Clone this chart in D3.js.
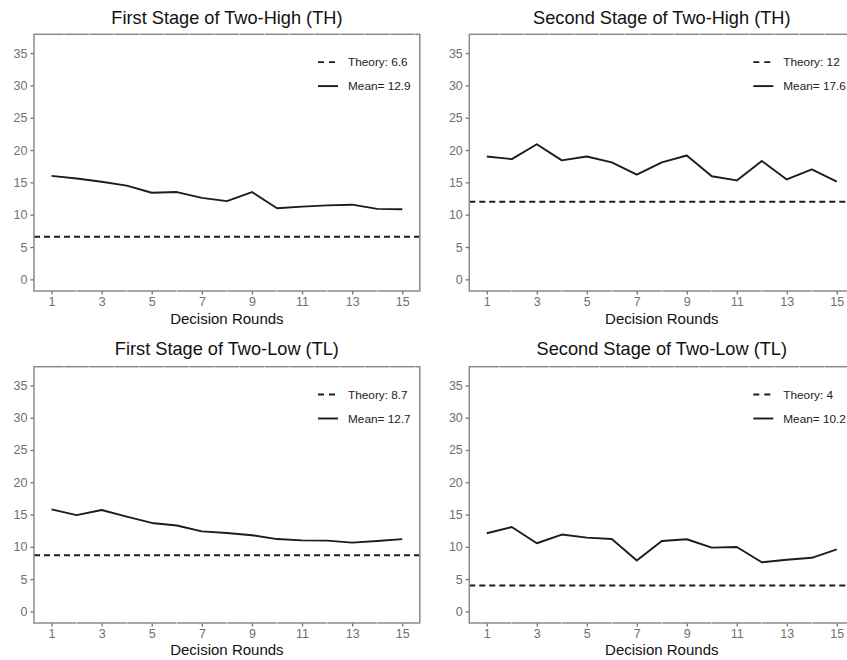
<!DOCTYPE html>
<html>
<head>
<meta charset="utf-8">
<script src="https://cdn.jsdelivr.net/npm/d3@7/dist/d3.min.js"></script>
<style>
  html, body { margin: 0; padding: 0; background: #fff; }
  svg { display: block; }
  text { font-family: "Liberation Sans", Arial, sans-serif; }
</style>
</head>
<body>
<svg id="chart" width="847" height="660"></svg>
<script>
// ---------- data ----------
const rounds = [1, 2, 3, 4, 5, 6, 7, 8, 9, 10, 11, 12, 13, 14, 15];
const thFirst  = [16.0, 15.6, 15.1, 14.5, 13.4, 13.5, 12.6, 12.1, 13.5, 11.0, 11.25, 11.45, 11.55, 10.9, 10.85];
const thSecond = [19.0, 18.6, 20.9, 18.4, 19.0, 18.1, 16.2, 18.1, 19.15, 15.95, 15.3, 18.3, 15.45, 17.0, 15.1];
const tlFirst  = [15.8, 14.9, 15.7, 14.67, 13.7, 13.3, 12.4, 12.15, 11.8, 11.2, 11.0, 10.96, 10.65, 10.9, 11.2];
const tlSecond = [12.1, 13.07, 10.55, 11.9, 11.43, 11.2, 7.87, 10.9, 11.17, 9.88, 9.98, 7.6, 8.0, 8.3, 9.6];
const theoryValues = [6.6, 12, 8.7, 4];
const theoryLabels = ["Theory: 6.6", "Theory: 12", "Theory: 8.7", "Theory: 4"];
const meanLabels = ["Mean= 12.9", "Mean= 17.6", "Mean= 12.7", "Mean= 10.2"];
const titles = ["First Stage of Two-High (TH)", "Second Stage of Two-High (TH)",
                "First Stage of Two-Low (TL)", "Second Stage of Two-Low (TL)"];
const seriesList = [thFirst, thSecond, tlFirst, tlSecond];
const xTicks = [1, 3, 5, 7, 9, 11, 13, 15];
const yTicks = [0, 5, 10, 15, 20, 25, 30, 35];
const xLabel = "Decision Rounds";

// ---------- layout ----------
const panels = [
  { left: 34,    right: 419.8, top: 34.3,  bottom: 291, titleY: 24,  xLabY: 324 },
  { left: 469.3, right: 854.3, top: 34.3,  bottom: 291, titleY: 24,  xLabY: 324 },
  { left: 34,    right: 419.8, top: 366.7, bottom: 623, titleY: 355, xLabY: 655 },
  { left: 469.3, right: 854.3, top: 366.7, bottom: 623, titleY: 355, xLabY: 655 }
];

const svg = d3.select("#chart");
const borderColor = "#8a8a8a";
const tickColor = "#707070";
const tickTextColor = "#707070";
const lineColor = "#1c1c1c";
const lw = 1.9;

panels.forEach((p, i) => {
  const x = d3.scaleLinear().domain([0.3, 15.7]).range([p.left, p.right]);
  const y = d3.scaleLinear().domain([-1.8, 37.9]).range([p.bottom, p.top]);
  const g = svg.append("g");

  const clipId = "clip" + i;
  svg.append("clipPath").attr("id", clipId)
    .append("rect").attr("x", p.left).attr("y", p.top)
    .attr("width", p.right - p.left).attr("height", p.bottom - p.top);

  // title
  g.append("text").attr("x", (p.left + p.right) / 2).attr("y", p.titleY)
    .attr("text-anchor", "middle").attr("font-size", 18.2).attr("fill", "#111")
    .text(titles[i]);

  // y axis
  const yAxis = g.append("g").attr("transform", `translate(${p.left},0)`)
    .call(d3.axisLeft(y).tickValues(yTicks).tickSize(3.5).tickPadding(3));
  yAxis.select(".domain").remove();
  yAxis.selectAll(".tick line").attr("stroke", tickColor).attr("stroke-width", 1.3);
  yAxis.selectAll(".tick text").attr("fill", tickTextColor).attr("font-size", 12.5)
    .style("font-family", "'Liberation Sans', Arial, sans-serif");

  // x axis
  const xAxis = g.append("g").attr("transform", `translate(0,${p.bottom})`)
    .call(d3.axisBottom(x).tickValues(xTicks).tickSize(3.5).tickPadding(3));
  xAxis.select(".domain").remove();
  xAxis.selectAll(".tick line").attr("stroke", tickColor).attr("stroke-width", 1.3);
  xAxis.selectAll(".tick text").attr("fill", tickTextColor).attr("font-size", 12.5)
    .style("font-family", "'Liberation Sans', Arial, sans-serif");

  // x label
  g.append("text").attr("x", (p.left + p.right) / 2).attr("y", p.xLabY)
    .attr("text-anchor", "middle").attr("font-size", 15).attr("fill", "#111")
    .text(xLabel);

  // theory line
  const plot = g.append("g").attr("clip-path", `url(#${clipId})`);
  plot.append("line")
    .attr("x1", x(0.3)).attr("x2", x(15.7))
    .attr("y1", y(theoryValues[i])).attr("y2", y(theoryValues[i]))
    .attr("stroke", lineColor).attr("stroke-width", lw)
    .attr("stroke-dasharray", "6,4");

  // mean series line
  const line = d3.line().x((d, k) => x(rounds[k])).y(d => y(d));
  plot.append("path").datum(seriesList[i])
    .attr("d", line).attr("fill", "none")
    .attr("stroke", lineColor).attr("stroke-width", lw)
    .attr("stroke-linejoin", "round");

  // legend
  const lgX = p.left + 284;
  const lgY1 = p.top + 27.8;
  const lgY2 = p.top + 51.8;
  g.append("line").attr("x1", lgX).attr("x2", lgX + 19)
    .attr("y1", lgY1).attr("y2", lgY1)
    .attr("stroke", lineColor).attr("stroke-width", lw).attr("stroke-dasharray", "6,5");
  g.append("text").attr("x", p.left + 314).attr("y", lgY1).attr("dy", "0.35em")
    .attr("font-size", 11.8).attr("fill", "#222").text(theoryLabels[i]);
  g.append("line").attr("x1", lgX).attr("x2", lgX + 20)
    .attr("y1", lgY2).attr("y2", lgY2)
    .attr("stroke", lineColor).attr("stroke-width", lw);
  g.append("text").attr("x", p.left + 314).attr("y", lgY2).attr("dy", "0.35em")
    .attr("font-size", 11.8).attr("fill", "#222").text(meanLabels[i]);

  // panel border
  g.append("rect").attr("x", p.left).attr("y", p.top)
    .attr("width", p.right - p.left).attr("height", p.bottom - p.top)
    .attr("fill", "none").attr("stroke", borderColor).attr("stroke-width", 1.5);

  // faint white gaps on the border (grid showing through)
  g.append("g").selectAll("line").data(d3.range(1, 16).map(v => v + 0.5))
    .join("line")
    .attr("x1", d => x(d)).attr("x2", d => x(d))
    .attr("y1", p.top - 1).attr("y2", p.top + 1)
    .attr("stroke", "#fff").attr("stroke-width", 0.8).attr("opacity", 0.8);
  g.append("g").selectAll("line").data(d3.range(2, 16, 2))
    .join("line")
    .attr("x1", d => x(d)).attr("x2", d => x(d))
    .attr("y1", p.bottom - 1).attr("y2", p.bottom + 1)
    .attr("stroke", "#fff").attr("stroke-width", 0.8).attr("opacity", 0.8);
});
</script>
</body>
</html>
